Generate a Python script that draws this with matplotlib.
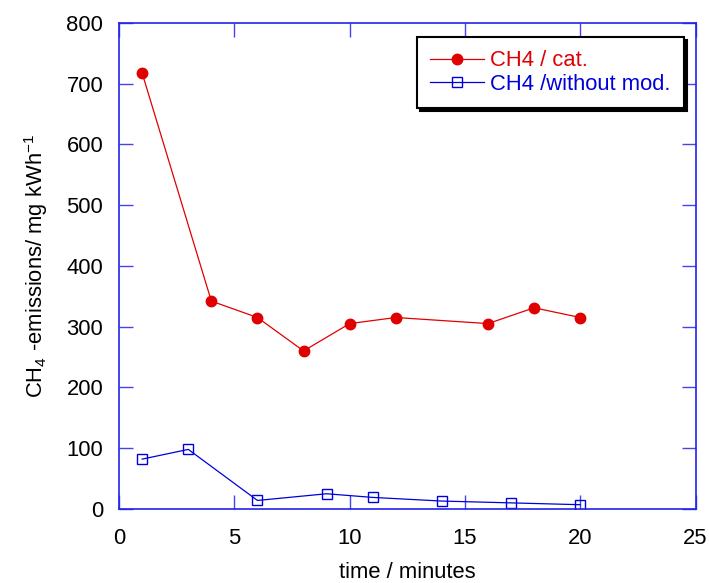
import matplotlib
matplotlib.use("Agg")
import matplotlib.pyplot as plt

plt.rcParams['font.family'] = ['Liberation Sans', 'DejaVu Sans']
plt.rcParams['mathtext.fontset'] = 'custom'
plt.rcParams['mathtext.rm'] = 'Liberation Sans'

x_cat = [1, 4, 6, 8, 10, 12, 16, 18, 20]
y_cat = [717, 342, 315, 260, 305, 315, 305, 331, 315]
x_nomod = [1, 3, 6, 9, 11, 14, 17, 20]
y_nomod = [82, 98, 14, 25, 19, 13, 10, 7]
label_cat = "CH4 / cat."
label_nomod = "CH4 /without mod."

FS = 15.8

fig = plt.figure(figsize=(7.09, 5.83), dpi=100)
ax = fig.add_axes([0.168, 0.127, 0.813, 0.834])

ax.plot(x_cat, y_cat, color='#e00000', lw=0.9, marker='o', ms=7.5, mfc='#e00000', mec='#e00000', label=label_cat)
ax.plot(x_nomod, y_nomod, color='#0000dd', lw=0.9, marker='s', ms=7.5, mfc='none', mec='#0000dd', mew=1.0, label=label_nomod)

ax.set_xlim(0, 25)
ax.set_ylim(0, 800)
ax.set_xticks([0, 5, 10, 15, 20, 25])
ax.set_yticks(range(0, 801, 100))
for s in ax.spines.values():
    s.set_color('#2222ee')
    s.set_linewidth(1.2)
ax.tick_params(direction='in', top=True, right=True, length=10, width=1.0, color='#4444ee',
               labelsize=FS, labelcolor='black')
ax.tick_params(axis='x', pad=13.5)
ax.tick_params(axis='y', pad=11.5)

ax.set_xlabel("time / minutes", fontsize=FS, labelpad=9.5)
ax.set_ylabel(r"CH$_4$ -emissions/ mg kWh$^{-1}$", fontsize=FS, labelpad=12)

leg = ax.legend(loc='upper right', bbox_to_anchor=(0.98, 0.97), fontsize=FS, frameon=True,
                fancybox=False, shadow={'color': 'black', 'alpha': 1.0}, handlelength=2.45,
                borderpad=0.6, labelspacing=0.1, handletextpad=0.3, borderaxespad=0)
leg.get_frame().set_edgecolor('black')
leg.get_frame().set_linewidth(1.5)
for t, c in zip(leg.get_texts(), ['#e00000', '#0000dd']):
    t.set_color(c)

fig.savefig("out.png", dpi=100)
